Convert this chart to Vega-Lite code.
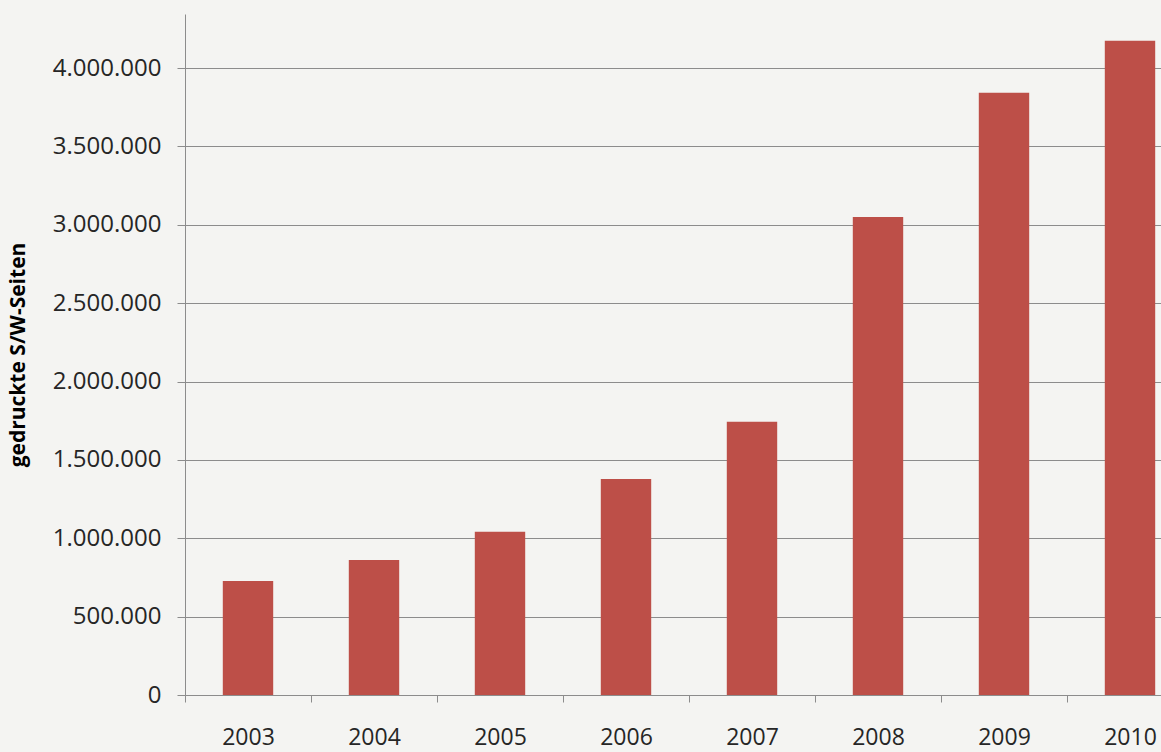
{
  "$schema": "https://vega.github.io/schema/vega-lite/v6.json",
  "autosize": {"type": "none"},
  "width": 976,
  "height": 681,
  "padding": {"left": 185, "top": 14, "right": 0, "bottom": 57},
  "background": "#f4f4f2",
  "config": {
    "locale": {"number": {"decimal": ",", "thousands": ".", "grouping": [3], "currency": ["", " €"]}},
    "view": {"stroke": null},
    "font": "Open Sans"
  },
  "data": {
    "values": [
      {"Jahr": "2003", "Seiten": 727000},
      {"Jahr": "2004", "Seiten": 862000},
      {"Jahr": "2005", "Seiten": 1041000},
      {"Jahr": "2006", "Seiten": 1378000},
      {"Jahr": "2007", "Seiten": 1743000},
      {"Jahr": "2008", "Seiten": 3050000},
      {"Jahr": "2009", "Seiten": 3843000},
      {"Jahr": "2010", "Seiten": 4174000}
    ]
  },
  "mark": {"type": "bar", "color": "#bd4f48"},
  "encoding": {
    "x": {
      "field": "Jahr",
      "type": "nominal",
      "scale": {"range": [0, 1008], "paddingInner": 0.6, "paddingOuter": 0.3},
      "axis": {
        "title": null,
        "labelAngle": 0,
        "labelFontSize": 23,
        "labelColor": "#262626",
        "labelPadding": 24,
        "domainColor": "#8c8c8c",
        "tickColor": "#8c8c8c",
        "tickSize": 7,
        "tickOffset": -63,
        "labelOffset": 63,
        "grid": false
      }
    },
    "y": {
      "field": "Seiten",
      "type": "quantitative",
      "scale": {"domain": [0, 4345000], "nice": false},
      "axis": {
        "title": "gedruckte S/W-Seiten",
        "titleFontSize": 21,
        "titleFontWeight": "bold",
        "titleColor": "#000000",
        "titlePadding": 24,
        "values": [0, 500000, 1000000, 1500000, 2000000, 2500000, 3000000, 3500000, 4000000],
        "format": ",d",
        "labelFontSize": 24,
        "labelColor": "#262626",
        "labelPadding": 16,
        "domainColor": "#8c8c8c",
        "tickColor": "#8c8c8c",
        "tickSize": 8,
        "grid": true,
        "gridColor": "#8c8c8c"
      }
    }
  }
}
